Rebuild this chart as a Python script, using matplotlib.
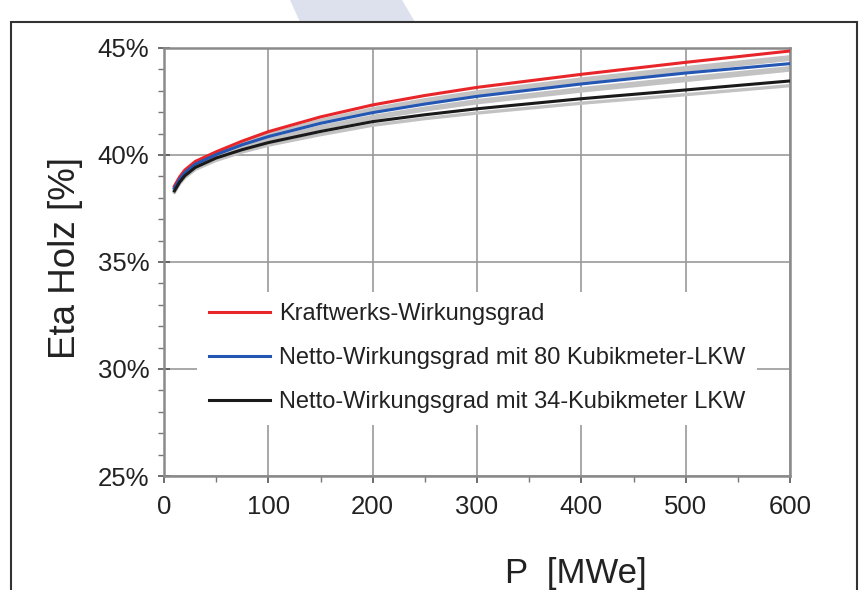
#!/usr/bin/env python3
"""Eta Holz vs. Kraftwerksleistung P (Wirkungsgrad-Kurven)."""
import matplotlib
matplotlib.use("Agg")
import matplotlib.pyplot as plt
from matplotlib.patches import Polygon, Rectangle
from matplotlib.ticker import MultipleLocator, FuncFormatter

# Leistung P [MWe]
p_mwe = [10, 15, 20, 30, 50, 75, 100, 150, 200, 250, 300, 400, 500, 600]

# Wirkungsgrade [%]
eta_kraftwerk = [38.55, 38.98, 39.3, 39.7, 40.15, 40.65, 41.09, 41.78, 42.34, 42.78, 43.16, 43.77, 44.33, 44.86]
eta_lkw80 = [38.45, 38.87, 39.18, 39.57, 40.02, 40.48, 40.86, 41.48, 41.98, 42.38, 42.74, 43.32, 43.83, 44.27]
eta_lkw34 = [38.32, 38.73, 39.03, 39.42, 39.86, 40.25, 40.58, 41.1, 41.56, 41.88, 42.16, 42.63, 43.04, 43.46]

# graue Begleitkurven (Varianten)
grau_1 = [38.5, 38.92, 39.23, 39.61, 40.04, 40.52, 40.95, 41.62, 42.16, 42.58, 42.95, 43.55, 44.08, 44.59]
grau_2 = [38.47, 38.89, 39.2, 39.56, 39.98, 40.45, 40.88, 41.53, 42.06, 42.47, 42.84, 43.43, 43.96, 44.47]
grau_3 = [38.4, 38.81, 39.11, 39.48, 39.9, 40.35, 40.72, 41.32, 41.8, 42.19, 42.54, 43.1, 43.6, 44.08]
grau_4 = [38.37, 38.78, 39.07, 39.43, 39.85, 40.29, 40.66, 41.24, 41.71, 42.1, 42.44, 42.99, 43.48, 43.97]
grau_5 = [38.25, 38.66, 38.95, 39.33, 39.75, 40.14, 40.46, 40.95, 41.39, 41.7, 41.96, 42.42, 42.82, 43.24]

labels = ["Kraftwerks-Wirkungsgrad",
          "Netto-Wirkungsgrad mit 80 Kubikmeter-LKW",
          "Netto-Wirkungsgrad mit 34-Kubikmeter LKW"]

plt.rcParams["font.family"] = ["Liberation Sans", "DejaVu Sans"]

fig = plt.figure(figsize=(8.61, 5.90), dpi=100)
fig.patch.set_facecolor("white")

# Rahmen + Wasserzeichen oben
fig.patches.append(Polygon([(290 / 861, 1.0), (402 / 861, 1.0), (415 / 861, 1 - 22 / 590), (300 / 861, 1 - 22 / 590)],
                           closed=True, transform=fig.transFigure, facecolor="#dde1ee", edgecolor="none"))
fig.patches.append(Rectangle((11 / 861, -0.02), 846 / 861, 1.02 - 22 / 590, transform=fig.transFigure,
                             facecolor="none", edgecolor="#333333", linewidth=1.5))

ax = fig.add_axes([164 / 861, 1 - 476 / 590, 626 / 861, 428 / 590])

for g in (grau_1, grau_2, grau_3, grau_4, grau_5):
    ax.plot(p_mwe, g, color="#c2c2c2", linewidth=2.4, zorder=2)

ax.plot(p_mwe, eta_kraftwerk, color="#e8262a", linewidth=2.2, label=labels[0], zorder=3)
ax.plot(p_mwe, eta_lkw80, color="#2456b4", linewidth=2.2, label=labels[1], zorder=3)
ax.plot(p_mwe, eta_lkw34, color="#1a1a1a", linewidth=2.2, label=labels[2], zorder=3)

ax.set_xlim(0, 600)
ax.set_ylim(25, 45)
ax.xaxis.set_major_locator(MultipleLocator(100))
ax.xaxis.set_minor_locator(MultipleLocator(50))
ax.yaxis.set_major_locator(MultipleLocator(5))
ax.yaxis.set_minor_locator(MultipleLocator(1))
ax.yaxis.set_major_formatter(FuncFormatter(lambda v, _: f"{v:.0f}%"))

ax.grid(True, which="major", color="#9a9a9a", linewidth=1.2)
ax.set_axisbelow(True)
for s in ax.spines.values():
    s.set_color("#8a8a8a")
    s.set_linewidth(1.8)

ax.tick_params(axis="both", which="major", labelsize=18.5, colors="#555555", labelcolor="#222222")
ax.tick_params(axis="y", which="major", direction="inout", length=9, width=1.2, pad=6)
ax.tick_params(axis="x", which="major", direction="out", length=5, width=1.2, pad=9)
ax.tick_params(axis="both", which="minor", direction="out", length=4, width=1.0, colors="#777777")

ax.set_xlabel("P  [MWe]", fontsize=25, color="#222222")
ax.xaxis.set_label_coords(0.658, -0.19)
ax.set_ylabel("Eta Holz [%]", fontsize=26.5, color="#222222")
ax.yaxis.set_label_coords(-0.13, 0.51)

leg = ax.legend(loc="center", bbox_to_anchor=(0.50, 0.275), fontsize=17, frameon=True,
                facecolor="white", edgecolor="none", framealpha=1.0, handlelength=2.6,
                handletextpad=0.35, labelspacing=0.93, borderpad=0.5)
for t in leg.get_texts():
    t.set_color("#222222")

fig.savefig("out.png", dpi=100)
print("Saved out.png")
